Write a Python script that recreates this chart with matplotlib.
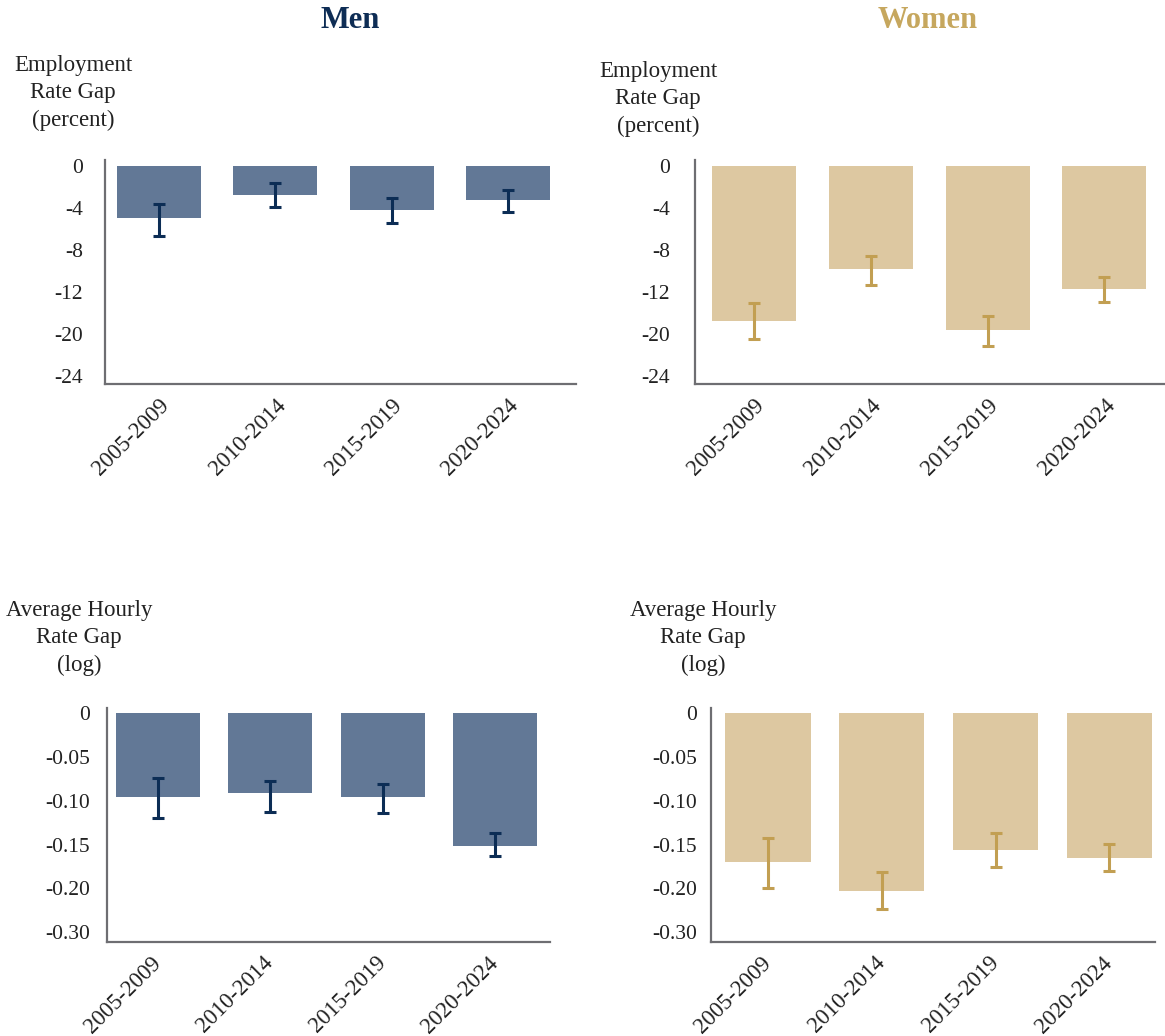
import matplotlib
matplotlib.use("Agg")
import matplotlib.pyplot as plt
import numpy as np

plt.rcParams["font.family"] = ["Liberation Serif", "DejaVu Serif"]

periods = ["2005-2009", "2010-2014", "2015-2019", "2020-2024"]

# Employment rate gap (percent), bar value and error-bar ends
men_emp = [-4.95, -2.75, -4.21, -3.25]
men_emp_lo = [-6.60, -3.92, -5.39, -4.37]
men_emp_hi = [-3.57, -1.60, -3.03, -2.30]
women_emp = [-14.74, -9.83, -15.60, -11.74]
women_emp_lo = [-16.46, -11.29, -17.13, -12.92]
women_emp_hi = [-12.99, -8.58, -14.23, -10.59]

# Average hourly rate gap (log)
men_wage = [-0.0963, -0.0912, -0.0963, -0.1513]
men_wage_lo = [-0.1197, -0.1133, -0.1144, -0.1630]
men_wage_hi = [-0.0737, -0.0779, -0.0806, -0.1365]
women_wage = [-0.1696, -0.2026, -0.1559, -0.1650]
women_wage_lo = [-0.1992, -0.2235, -0.1756, -0.1802]
women_wage_hi = [-0.1422, -0.1810, -0.1365, -0.1490]

emp_ticks = [0, -4, -8, -12, -16, -20]
emp_ticklabels = ["0", "-4", "-8", "-12", "-20", "-24"]
wage_ticks = [0, -0.05, -0.10, -0.15, -0.20, -0.25]
wage_ticklabels = ["0", "-0.05", "-0.10", "-0.15", "-0.20", "-0.30"]

MEN_BAR = "#627896"
MEN_ERR = "#0c2d55"
WOMEN_BAR = "#ddc8a1"
WOMEN_ERR = "#c29f52"
SPINE = "#6e6e72"
TEXT = "#222222"

W, H = 1165, 1036
fig = plt.figure(figsize=(W / 100, H / 100), dpi=100)


def px_axes(x0, y0, x1, y1):
    return fig.add_axes([x0 / W, 1 - y1 / H, (x1 - x0) / W, (y1 - y0) / H])


def panel(ax, vals, lo, hi, bar_c, err_c, ticks, ticklabels, ylim, xlim,
          ypad, width, xva, xpad):
    x = np.arange(len(periods))
    vals = np.array(vals)
    yerr = np.vstack([vals - np.array(lo), np.array(hi) - vals])
    ax.bar(x, vals, width=width, color=bar_c, zorder=2)
    ax.errorbar(x, vals, yerr=yerr, fmt="none", ecolor=err_c, elinewidth=2.2,
                capsize=4.5, capthick=2.2, zorder=3)
    ax.set_ylim(*ylim)
    ax.set_xlim(*xlim)
    ax.set_yticks(ticks)
    ax.set_yticklabels(ticklabels)
    ax.set_xticks(x)
    ax.set_xticklabels(periods, rotation=45, ha="right", va=xva,
                       rotation_mode="anchor")
    for s in ("top", "right"):
        ax.spines[s].set_visible(False)
    for s in ("left", "bottom"):
        ax.spines[s].set_color(SPINE)
        ax.spines[s].set_linewidth(1.6)
    ax.tick_params(axis="y", length=0, pad=ypad, labelsize=15.5, labelcolor=TEXT)
    ax.tick_params(axis="x", length=0, pad=xpad, labelsize=16.5, labelcolor=TEXT)


ax1 = px_axes(105, 160, 576, 383.5)
panel(ax1, men_emp, men_emp_lo, men_emp_hi, MEN_BAR, MEN_ERR,
      emp_ticks, emp_ticklabels, (-20.7, 0.6), (-0.464, 3.585), 16, 0.72,
      "top", 8)

ax2 = px_axes(695, 160, 1165, 383.5)
panel(ax2, women_emp, women_emp_lo, women_emp_hi, WOMEN_BAR, WOMEN_ERR,
      emp_ticks, emp_ticklabels, (-20.7, 0.6), (-0.506, 3.52), 18, 0.72,
      "top", 8)

ax3 = px_axes(106.7, 708.3, 550, 941.7)
panel(ax3, men_wage, men_wage_lo, men_wage_hi, MEN_BAR, MEN_ERR,
      wage_ticks, wage_ticklabels, (-0.2608, 0.0054), (-0.457, 3.49), 12, 0.75,
      "center", 13)

ax4 = px_axes(711, 708.3, 1155, 941.7)
panel(ax4, women_wage, women_wage_lo, women_wage_hi, WOMEN_BAR, WOMEN_ERR,
      wage_ticks, wage_ticklabels, (-0.2608, 0.0054), (-0.5, 3.4), 10, 0.75,
      "center", 13)

# Column headings
fig.text(350 / W, 1 - 21 / H, "Men", ha="center", va="center",
         fontsize=22, fontweight="bold", color="#0e2d55")
fig.text(928 / W, 1 - 21 / H, "Women", ha="center", va="center",
         fontsize=22, fontweight="bold", color="#c6a75e")

# Axis titles above each panel
label_kw = dict(ha="center", va="center", multialignment="center",
                fontsize=16.5, color=TEXT, linespacing=1.38)
fig.text(73 / W, 1 - 93 / H, "Employment\nRate Gap\n(percent)", **label_kw)
fig.text(658 / W, 1 - 99 / H, "Employment\nRate Gap\n(percent)", **label_kw)
fig.text(79 / W, 1 - 638 / H, "Average Hourly\nRate Gap\n(log)", **label_kw)
fig.text(703 / W, 1 - 638 / H, "Average Hourly\nRate Gap\n(log)", **label_kw)

fig.savefig("out.png", dpi=100)
